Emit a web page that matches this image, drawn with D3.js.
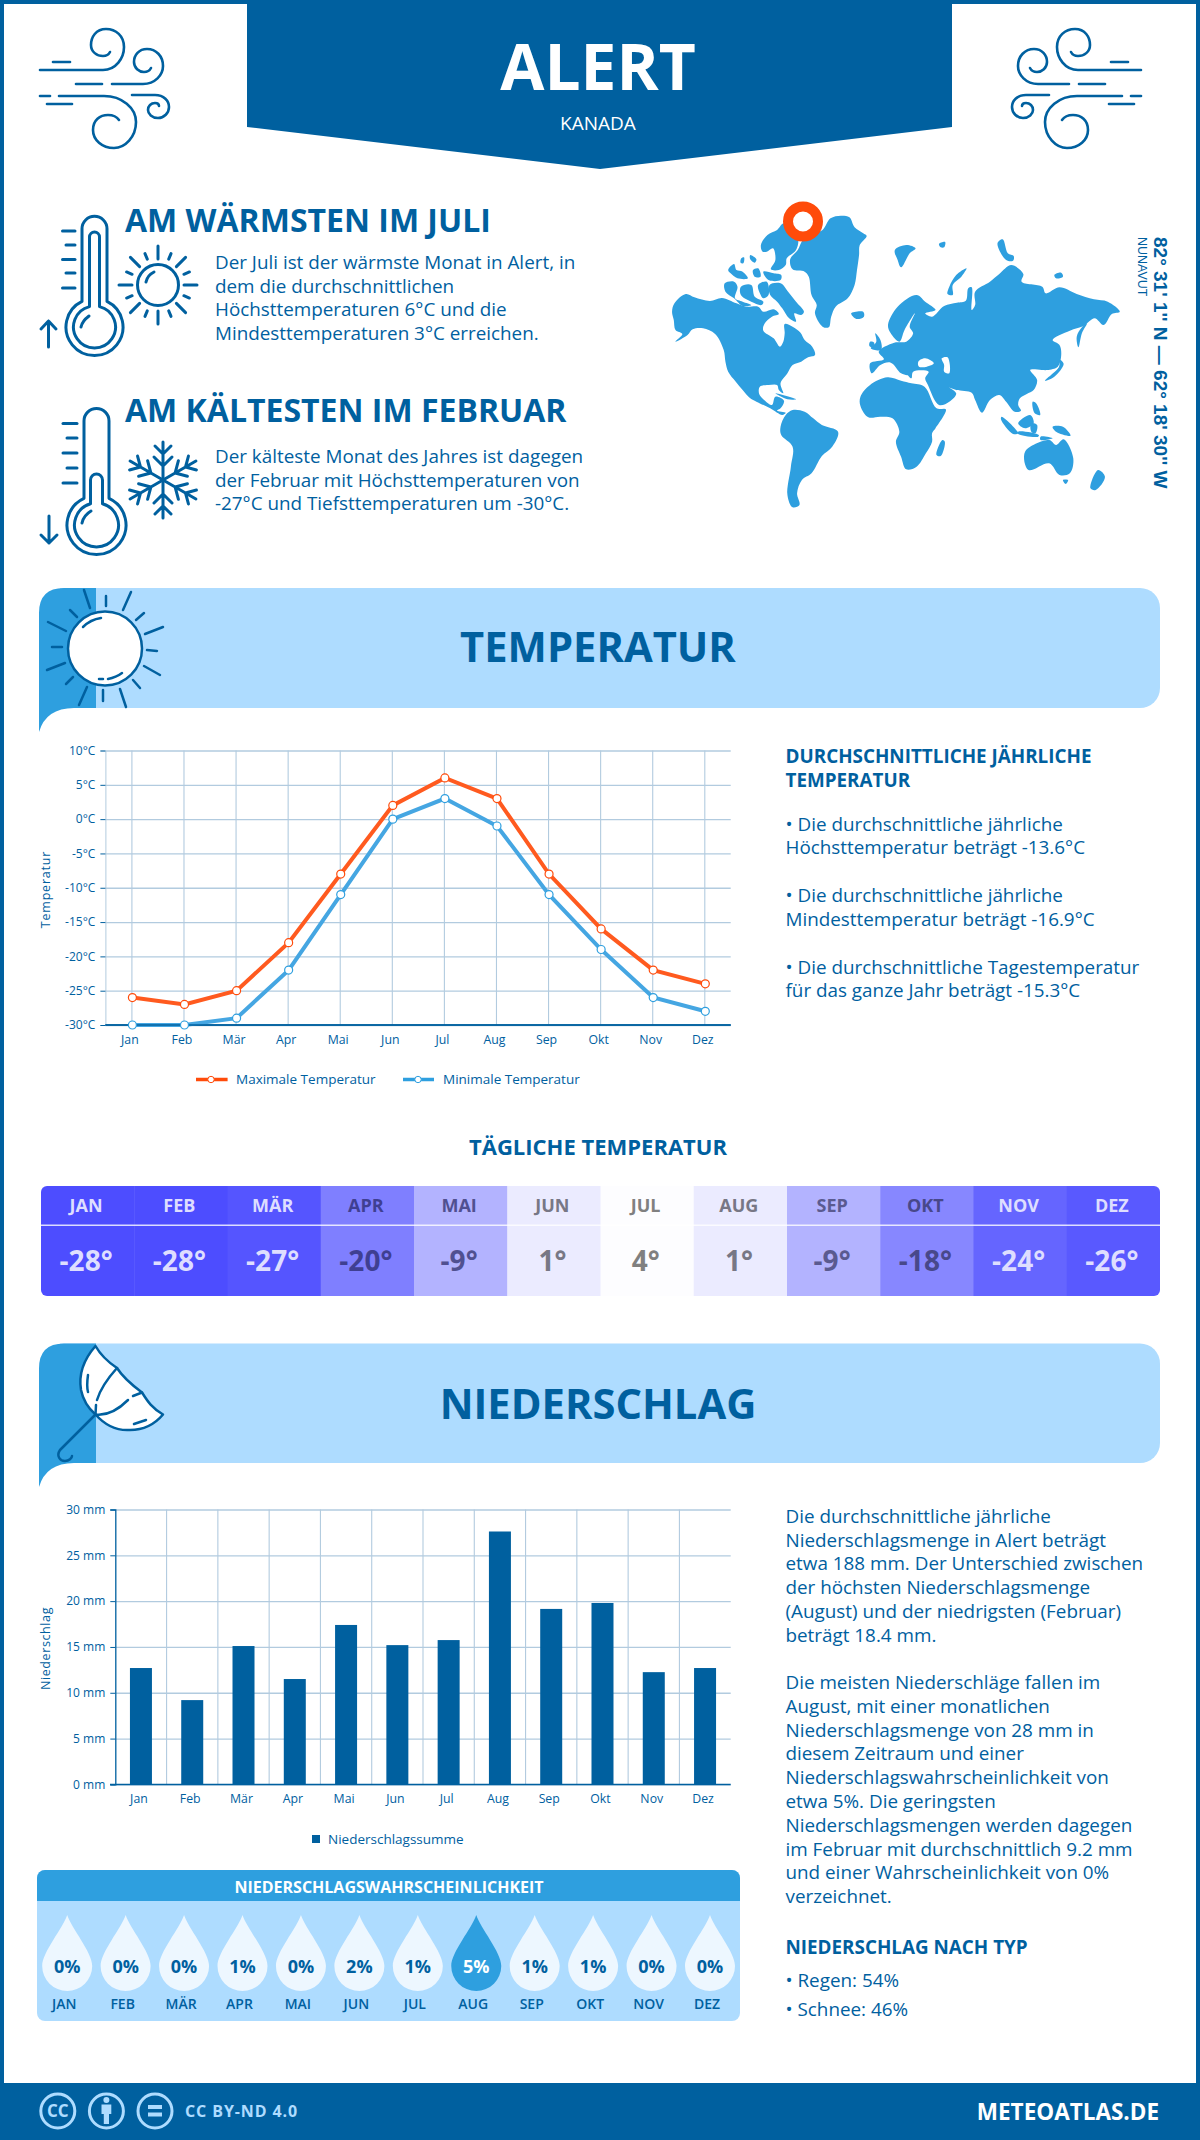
<!DOCTYPE html>
<html><head><meta charset="utf-8">
<script src="https://cdn.jsdelivr.net/npm/d3@7/dist/d3.min.js"></script>
<style>html,body{margin:0;padding:0;background:#fff}svg{display:block}text{font-family:"Open Sans",sans-serif}</style>
</head><body><svg id="c" width="1200" height="2140" viewBox="0 0 1200 2140"></svg>
<script>
const months=["Jan","Feb","Mär","Apr","Mai","Jun","Jul","Aug","Sep","Okt","Nov","Dez"];
const monthsUpper=["JAN","FEB","MÄR","APR","MAI","JUN","JUL","AUG","SEP","OKT","NOV","DEZ"];
const tempMax=[-26,-27,-25,-18,-8,2,6,3,-8,-16,-22,-24];
const tempMin=[-30,-30,-29,-22,-11,0,3,-1,-11,-19,-26,-28];
const tempTicks=[-30,-25,-20,-15,-10,-5,0,5,10];
const dailyTemp=[-28,-28,-27,-20,-9,1,4,1,-9,-18,-24,-26];
const dailyFill=["#4d4dff","#4d4dff","#5555ff","#7f7fff","#b3b3ff","#ebebff","#fdfdff","#ebebff","#b3b3ff","#8787ff","#6565ff","#5959ff"];
const dailyInk=["#dedeff","#dedeff","#dedeff","#3f3f92","#505090","#777785","#808080","#777785","#5a5a90","#48488a","#dedeff","#dedeff"];
const precip=[12.7,9.2,15.1,11.5,17.4,15.2,15.75,27.6,19.15,19.8,12.25,12.7];
const precipTicks=[0,5,10,15,20,25,30];
const rainProb=[0,0,0,1,0,2,1,5,1,1,0,0];
const warmText=["Der Juli ist der wärmste Monat in Alert, in","dem die durchschnittlichen","Höchsttemperaturen 6°C und die","Mindesttemperaturen 3°C erreichen."];
const coldText=["Der kälteste Monat des Jahres ist dagegen","der Februar mit Höchsttemperaturen von","-27°C und Tiefsttemperaturen um -30°C."];
const tempNotes=[["• Die durchschnittliche jährliche",831],["Höchsttemperatur beträgt -13.6°C",854],["• Die durchschnittliche jährliche",902],["Mindesttemperatur beträgt -16.9°C",925.5],["• Die durchschnittliche Tagestemperatur",973.5],["für das ganze Jahr beträgt -15.3°C",997]];
const precipNotes=[["Die durchschnittliche jährliche",1523],["Niederschlagsmenge in Alert beträgt",1546.5],["etwa 188 mm. Der Unterschied zwischen",1570],["der höchsten Niederschlagsmenge",1594],["(August) und der niedrigsten (Februar)",1618],["beträgt 18.4 mm.",1642],["Die meisten Niederschläge fallen im",1689],["August, mit einer monatlichen",1713],["Niederschlagsmenge von 28 mm in",1736.5],["diesem Zeitraum und einer",1760],["Niederschlagswahrscheinlichkeit von",1784],["etwa 5%. Die geringsten",1808],["Niederschlagsmengen werden dagegen",1832],["im Februar mit durchschnittlich 9.2 mm",1855.5],["und einer Wahrscheinlichkeit von 0%",1879],["verzeichnet.",1903],["• Regen: 54%",1987],["• Schnee: 46%",2016]];
const land=[
[[35,425],[42,400],[75,372],[100,382],[145,393],[180,384],[222,400],[250,410],[285,410],[300,425],[330,418],[345,432],[325,440],[303,462],[300,482],[330,505],[348,530],[358,515],[362,490],[362,462],[385,470],[408,488],[420,510],[442,530],[450,555],[430,562],[410,575],[385,585],[370,610],[350,640],[358,670],[345,660],[340,645],[315,645],[290,650],[288,672],[305,692],[325,705],[335,680],[360,692],[350,715],[340,722],[365,728],[355,735],[320,715],[280,695],[262,685],[240,660],[220,635],[198,605],[190,575],[185,540],[160,492],[125,475],[95,478],[80,495],[45,515],[65,492],[45,480],[40,450]],
[[350,770],[365,735],[385,720],[420,725],[445,745],[470,765],[517,785],[500,830],[470,858],[440,910],[412,930],[398,970],[405,1005],[385,1012],[370,975],[380,890],[385,830],[352,795]],
[[472,180],[495,145],[525,137],[550,142],[565,172],[590,190],[600,198],[580,225],[578,255],[572,300],[565,345],[545,385],[510,410],[497,440],[490,472],[472,470],[450,430],[455,405],[440,375],[432,320],[420,305],[385,298],[378,268],[400,240],[415,210],[445,190]],
[[293,225],[312,195],[340,180],[360,160],[400,200],[395,240],[368,265],[365,285],[345,300],[322,298],[335,270],[328,235],[310,245],[298,245]],
[[318,345],[350,340],[372,365],[395,395],[418,425],[410,435],[390,430],[395,455],[375,445],[355,415],[340,395],[320,375]],
[[188,340],[215,335],[225,350],[218,385],[240,395],[265,405],[240,408],[215,385],[190,365]],
[[235,350],[265,345],[275,380],[300,395],[295,405],[265,395],[235,375]],
[[285,345],[310,335],[315,375],[300,385],[290,370]],
[[198,300],[215,282],[222,300],[240,305],[255,325],[225,325],[205,310]],
[[270,300],[285,295],[292,320],[275,320]],
[[300,305],[330,310],[352,315],[350,330],[315,330]],
[[262,255],[280,268],[275,278],[262,268]],
[[236,265],[244,262],[242,280],[234,278]],
[[555,430],[590,425],[592,440],[570,447]],
[[682,240],[715,225],[742,235],[725,250],[700,292],[690,270]],
[[810,222],[828,216],[825,232],[815,232]],
[[890,295],[860,315],[840,350],[835,372],[850,375],[850,345],[875,320]],
[[980,220],[995,208],[1010,250],[1027,258],[1025,272],[1005,270]],
[[1145,315],[1165,308],[1170,320],[1150,325]],
[[745,375],[770,395],[800,420],[770,430],[790,440],[825,408],[862,398],[888,392],[895,355],[905,352],[905,420],[915,405],[915,365],[958,335],[985,312],[1020,285],[1055,312],[1050,335],[1110,350],[1120,370],[1160,352],[1210,372],[1260,388],[1300,395],[1335,425],[1312,432],[1288,465],[1262,445],[1230,468],[1190,482],[1140,510],[1160,525],[1165,555],[1155,590],[1125,600],[1108,600],[1075,600],[1095,630],[1085,660],[1065,672],[1045,685],[1040,705],[1048,722],[1030,725],[1005,695],[985,675],[958,690],[935,728],[915,690],[905,668],[860,660],[830,648],[820,642],[860,670],[840,695],[810,705],[778,645],[770,625],[780,605],[735,605],[730,625],[712,605],[690,575],[720,615],[700,610],[670,578],[640,585],[615,610],[610,580],[650,568],[635,545],[680,518],[715,515],[735,490],[725,470],[740,430],[710,480],[695,515],[670,490],[662,465],[690,410]],
[[582,680],[610,645],[660,622],[700,632],[730,640],[768,650],[803,715],[830,718],[800,775],[790,790],[790,815],[772,850],[745,890],[715,898],[700,860],[685,815],[695,785],[675,745],[640,740],[605,742],[582,708]],
[[820,810],[827,815],[815,858],[803,855]],
[[625,490],[640,510],[642,540],[612,535],[628,515]],
[[610,515],[622,518],[618,532],[608,528]],
[[1118,632],[1158,592],[1162,570],[1172,582],[1145,620]],
[[1240,460],[1225,490],[1215,532],[1210,500],[1225,472]],
[[1060,845],[1130,810],[1150,825],[1172,808],[1200,865],[1190,910],[1160,915],[1130,880],[1070,900]],
[[1170,930],[1185,930],[1178,942]],
[[1272,900],[1292,920],[1265,960],[1250,955]],
[[992,740],[1040,790],[1025,792],[990,748]],
[[1040,760],[1075,735],[1085,760],[1060,775]],
[[1040,785],[1100,795],[1098,800],[1040,792]],
[[1140,770],[1170,770],[1192,797],[1150,785]],
[[1078,760],[1095,765],[1090,790],[1078,785]],
[[1082,695],[1092,700],[1104,735],[1088,730]],
[[335,670],[395,688],[370,688]],
[[1105,800],[1140,805],[1105,810]]
];
const seas=[[[750,575],[770,565],[795,580],[775,590],[752,590]],[[818,565],[835,562],[840,610],[825,605],[825,585]]];

const blue="#00609f", mid="#2e9fdf", pale="#aedcff", grid="#b2cbdf", red="#ff4b0a";
const svg=d3.select("#c");
function T(x,y,s,o={}){const e=svg.append("text").attr("x",x).attr("y",y).text(s).attr("fill",o.fill||blue)
 .attr("font-size",o.size||18).attr("font-weight",o.weight||400).attr("text-anchor",o.anchor||"start");
 if(o.ls)e.attr("letter-spacing",o.ls); if(o.family)e.style("font-family",o.family); if(o.rot)e.attr("transform",`rotate(${o.rot} ${x} ${y})`); return e;}
function P(g,d,o={}){return g.append("path").attr("d",d).attr("fill",o.fill||"none").attr("stroke",o.stroke||blue).attr("stroke-width",o.w||3).attr("stroke-linecap","round").attr("stroke-linejoin","round");}
const bodySize=18.85;

// frame
svg.append("rect").attr("x",2).attr("y",2).attr("width",1196).attr("height",2100).attr("fill","none").attr("stroke",blue).attr("stroke-width",4);
// header
svg.append("path").attr("d","M247,0H952V127L600,169L247,127Z").attr("fill",blue);
T(598,90,"ALERT",{size:64,weight:700,anchor:"middle",fill:"#fff"});
T(598,130,"KANADA",{size:19,anchor:"middle",fill:"#fff"});
// wind icons
const windPaths=["M40 70H103C116 70 124 58 124 47C124 36 116 29 106 29C96 29 91 37 91 45C91 52 97 56 103 56C106 56 109 54 110 52","M53 62H70","M112 84H143C155 84 163 75 163 66C163 56 156 49 147 49C139 49 134 55 134 62C134 68 139 72 144 72C147 72 150 70 151 68","M76 84H102","M40 96H50","M59 96H104C122 96 136 108 136 122C136 137 125 148 114 148C102 148 93 140 93 130C93 120 100 115 108 115C113 115 117 117 119 120","M47 104H72","M132 95H155C164 95 169 101 169 107C169 113 164 118 158 118C152 118 148 114 148 110C148 106 151 103 155 103C157 103 159 104 159 106"];
const w1=svg.append("g"), w2=svg.append("g").attr("transform","translate(1181,0) scale(-1,1)");
windPaths.forEach(d=>{P(w1,d,{w:2.6});P(w2,d,{w:2.6});});
// warm block
T(125,231.5,"AM WÄRMSTEN IM JULI",{size:32,weight:700});
warmText.forEach((s,i)=>T(215,269+i*23.7,s,{size:bodySize}));
const th1=svg.append("g");
P(th1,"M82 301.4V228.8A12.5 12.5 0 0 1 107 228.8V301.4A28.5 28.5 0 1 1 82 301.4Z",{w:3});
P(th1,"M89.5 306.6V237A5 5 0 0 1 99.5 237V306.6A21 21 0 1 1 89.5 306.6Z",{w:3});
P(th1,"M81 327C82 322 85 319 89 316",{w:3});
[[62.5,231],[66,245],[62.5,259.5],[66,273],[62.5,288]].forEach(a=>P(th1,`M${a[0]} ${a[1]}H75`,{w:3}));
P(th1,"M48.5 347V321M41 329L48.5 321L56 329",{w:3});
const sun1=svg.append("g").attr("transform","translate(158,285)");
sun1.append("circle").attr("r",20.5).attr("fill","none").attr("stroke",blue).attr("stroke-width",3);
P(sun1,"M-12 -3C-11 -8 -8 -11 -4 -13",{w:3});
d3.range(8).forEach(i=>sun1.append("line").attr("y1",-26).attr("y2",-39).attr("stroke",blue).attr("stroke-width",3).attr("stroke-linecap","round").attr("transform",`rotate(${i*45})`));
d3.range(8).forEach(i=>sun1.append("line").attr("y1",-28).attr("y2",-34).attr("stroke",blue).attr("stroke-width",3).attr("stroke-linecap","round").attr("transform",`rotate(${22.5+i*45})`));
// cold block
T(125,421.5,"AM KÄLTESTEN IM FEBRUAR",{size:32,weight:700});
coldText.forEach((s,i)=>T(215,463+i*23.6,s,{size:bodySize}));
const th2=svg.append("g");
P(th2,"M84 498.3V421A12.5 12.5 0 0 1 109 421V498.3A29.5 29.5 0 1 1 84 498.3Z",{w:3});
P(th2,"M90.5 503.8V480A6 6 0 0 1 102.5 480V503.8A22 22 0 1 1 90.5 503.8Z",{w:3});
P(th2,"M82 523C83 518 86 514 91 511",{w:3});
[[63,423.5],[67,438],[63,453],[67,468],[63,483]].forEach(a=>P(th2,`M${a[0]} ${a[1]}H77`,{w:3}));
P(th2,"M49 516V543M41 535L49 543L57 535",{w:3});
const flake=svg.append("g").attr("transform","translate(163,480)");
d3.range(6).forEach(i=>{const a=flake.append("g").attr("transform",`rotate(${i*60})`);
 P(a,"M0 0V-38M-8 -34L0 -26L8 -34M-9 -23L0 -14L9 -23",{w:3});});
// map
const lineGen=d3.line().curve(d3.curveCatmullRomClosed.alpha(0.5));
const mapG=svg.append("g").attr("transform","translate(660,170) scale(0.3444,0.3333)");
mapG.selectAll("path.l").data(land).join("path").attr("class","l").attr("d",d=>lineGen(d)).attr("fill",mid);
mapG.selectAll("path.s").data(seas).join("path").attr("class","s").attr("d",d=>lineGen(d)).attr("fill","#fff");
svg.append("circle").attr("cx",803).attr("cy",221.5).attr("r",15).attr("fill","#fff").attr("stroke",red).attr("stroke-width",10);
T(1154,237,"82° 31' 1'' N — 62° 18' 30'' W",{size:19,weight:700,family:"'Liberation Sans'",rot:90});
T(1137.5,237,"NUNAVUT",{size:12.5,family:"'Liberation Sans'",rot:90});

function band(y0,y1,title,base){
 svg.append("path").attr("d",`M60,${y0}H1140a20,20 0 0 1 20,20V${y1-20}a20,20 0 0 1 -20,20H60Z`).attr("fill",pale);
 svg.append("path").attr("d",`M96,${y0}H64Q39,${y0} 39,${y0+25}V${y1+24}Q46,${y1} 74,${y1}H96Z`).attr("fill",mid);
 T(598,base,title,{size:41.7,weight:700,anchor:"middle"});
}
// temperature band
band(588,708,"TEMPERATUR",662);
const sun=svg.append("g");
sun.append("circle").attr("cx",105).attr("cy",648.5).attr("r",37).attr("fill","#fff").attr("stroke",blue).attr("stroke-width",2.5);
P(sun,"M83 627C88 622 94 619 101 618",{w:2.5});P(sun,"M99 679L103 679M108 679C113 678 118 676 122 673",{w:2.5});
["M84 590L90 608","M131 592L123 610","M163 627L145 634","M160 675L144 666","M126 707L120 689","M79 705L87 687","M47 670L65 663","M48 622L66 631","M106 596V606","M136 620L144 613","M147 650L157 651","M133 680L140 688","M103 690V701","M66 684L73 677","M52 647H62","M70 610L77 617"].forEach(d=>P(sun,d,{w:2.5}));

// temperature chart
const tL=105.4,tR=730.7,tT=750.5,tB=1025;
const tx=d3.scalePoint().domain(months).range([131.4,704.3]);
const ty=d3.scaleLinear().domain([-30,10]).range([tB,tT]);
const gT=svg.append("g");
const tyGrid=gT.append("g").attr("transform",`translate(${tL},0)`).call(d3.axisLeft(ty).tickValues(tempTicks).tickSize(-(tR-tL)).tickFormat(""));
tyGrid.selectAll("line").attr("stroke",grid).attr("stroke-width",1.3);tyGrid.select(".domain").remove();
const txGrid=gT.append("g").attr("transform",`translate(0,${tB})`).call(d3.axisBottom(tx).tickSize(-(tB-tT)).tickFormat(""));
txGrid.selectAll("line").attr("stroke",grid).attr("stroke-width",1.1);txGrid.select(".domain").remove();
const tyAx=gT.append("g").attr("transform",`translate(${tL},0)`).call(d3.axisLeft(ty).tickValues(tempTicks).tickSize(5).tickPadding(5).tickFormat(d=>d+"°C"));
tyAx.select(".domain").attr("stroke",grid);tyAx.selectAll("line").attr("stroke",blue);
tyAx.selectAll("text").attr("fill",blue).attr("font-size",12).style("font-family","'Open Sans'");
const txAx=gT.append("g").attr("transform",`translate(0,${tB})`).call(d3.axisBottom(tx).tickSize(0).tickPadding(10));
txAx.select(".domain").attr("stroke",blue).attr("stroke-width",1.5).attr("d",`M${tL},0H${tR}`);
txAx.selectAll("text").attr("fill",blue).attr("font-size",12.3).attr("dx",-2).style("font-family","'Open Sans'");
T(46,889.5,"Temperatur",{size:12.5,anchor:"middle",rot:-90,ls:0.8}).attr("dy",4);
const tLine=d3.line().x((d,i)=>tx(months[i])+1).y(d=>ty(d));
[[tempMin,"#45a6e2"],[tempMax,"#ff5a1f"]].forEach(([vals,col])=>{
 gT.append("path").datum(vals).attr("d",tLine).attr("fill","none").attr("stroke",col).attr("stroke-width",4);
});
gT.append("path").attr("d",`M${tL},${tB}H${tR}`).attr("stroke",blue).attr("stroke-width",1.5);
[[tempMax,red],[tempMin,mid]].forEach(([vals,col])=>{
 gT.selectAll(null).data(vals).join("circle").attr("cx",(d,i)=>tx(months[i])+1).attr("cy",d=>ty(d)).attr("r",4).attr("fill","#fff").attr("stroke",col).attr("stroke-width",1.2);
});
[[196,227.6,211,red,"Maximale Temperatur",236],[403,434,418,mid,"Minimale Temperatur",443]].forEach(([a,b,c,col,s,tx0])=>{
 gT.append("line").attr("x1",a).attr("x2",b).attr("y1",1079.5).attr("y2",1079.5).attr("stroke",col).attr("stroke-width",3.5);
 gT.append("circle").attr("cx",c).attr("cy",1079.5).attr("r",3.2).attr("fill","#fff").attr("stroke",col);
 T(tx0,1084,s,{size:13.5});
});
// temperature notes
T(785.5,763,"DURCHSCHNITTLICHE JÄHRLICHE",{size:bodySize,weight:700});
T(785.5,786.5,"TEMPERATUR",{size:bodySize,weight:700});
tempNotes.forEach(([s,y])=>T(785.5,y,s,{size:bodySize}));

// daily table
T(598,1155,"TÄGLICHE TEMPERATUR",{size:22,weight:700,anchor:"middle"});
const cx=d3.scaleBand().domain(monthsUpper).range([41,1160]);
const clip=svg.append("clipPath").attr("id","tbl");clip.append("rect").attr("x",41).attr("y",1186).attr("width",1119).attr("height",110).attr("rx",6);
const gD=svg.append("g").attr("clip-path","url(#tbl)");
gD.selectAll("rect").data(monthsUpper).join("rect").attr("x",d=>cx(d)).attr("y",1186).attr("width",cx.bandwidth()+.5).attr("height",110).attr("fill",(d,i)=>dailyFill[i]);
gD.append("rect").attr("x",41).attr("y",1224.6).attr("width",1119).attr("height",1.2).attr("fill","#fff");
monthsUpper.forEach((m,i)=>{
 T(cx(m)+cx.bandwidth()/2-1.5,1211.5,m,{size:18,weight:700,anchor:"middle",fill:dailyInk[i]});
 T(cx(m)+cx.bandwidth()/2-1.5,1271,dailyTemp[i]+"°",{size:28,weight:700,anchor:"middle",fill:dailyInk[i]});
});

// precipitation band
band(1343.5,1463,"NIEDERSCHLAG",1418.5);
const um=svg.append("g");
P(um,"M95.5 1346C85 1358 78 1372 81 1390C83 1400 88 1408 95.5 1414.5C104 1424 116 1431 130 1430C143 1430 155 1424 163 1414.5C152 1408 148 1402 142 1392.5C132 1385 122 1376 117 1368C108 1362 100 1354 95.5 1346Z",{w:2.5,fill:"#fff"});
P(um,"M117 1368C108 1378 100 1390 97 1400",{w:2.5});P(um,"M96 1405L95.5 1414.5C108 1416 120 1408 128 1400",{w:2.5});P(um,"M133 1396L142 1392.5",{w:2.5});
P(um,"M88 1375C87 1382 87 1388 88 1392",{w:2.5});P(um,"M134 1424L146 1420",{w:2.5});
P(um,"M95.5 1414.5L60 1450C56 1456 60 1461 65 1461C69 1461 72 1458 72 1456",{w:2.5});

// precipitation chart
const bL=115.3,bR=730.7,bT=1509.5,bB=1784.4;
const bx=d3.scaleBand().domain(months).range([bL,bR]);
const by=d3.scaleLinear().domain([0,30]).range([bB,bT]);
const gB=svg.append("g");
const byGrid=gB.append("g").attr("transform",`translate(${bL},0)`).call(d3.axisLeft(by).tickValues(precipTicks).tickSize(-(bR-bL)).tickFormat(""));
byGrid.selectAll("line").attr("stroke",grid).attr("stroke-width",1.3);byGrid.select(".domain").remove();
gB.selectAll("line.v").data(months.slice(1)).join("line").attr("class","v").attr("x1",d=>bx(d)).attr("x2",d=>bx(d)).attr("y1",bT).attr("y2",bB).attr("stroke",grid).attr("stroke-width",1.1);
gB.selectAll("rect").data(precip).join("rect").attr("x",(d,i)=>bx(months[i])+bx.bandwidth()/2-11).attr("width",22).attr("y",d=>by(d)).attr("height",d=>bB-by(d)).attr("fill",blue);
const byAx=gB.append("g").attr("transform",`translate(${bL},0)`).call(d3.axisLeft(by).tickValues(precipTicks).tickSize(5).tickPadding(5).tickFormat(d=>d+" mm"));
byAx.select(".domain").attr("stroke",blue).attr("stroke-width",1.3);byAx.selectAll("line").attr("stroke",blue);
byAx.selectAll("text").attr("fill",blue).attr("font-size",12).style("font-family","'Open Sans'");
const bxAx=gB.append("g").attr("transform",`translate(0,${bB})`).call(d3.axisBottom(bx).tickSize(0).tickPadding(10));
bxAx.select(".domain").attr("stroke",blue).attr("stroke-width",1.5).attr("d",`M110,0H${bR}`);
bxAx.selectAll("text").attr("fill",blue).attr("font-size",12.3).attr("dx",-2).style("font-family","'Open Sans'");
T(46,1648.5,"Niederschlag",{size:12.5,anchor:"middle",rot:-90,ls:0.6}).attr("dy",4);
gB.append("rect").attr("x",312).attr("y",1835).attr("width",8).attr("height",8).attr("fill",blue);
T(328,1843.5,"Niederschlagssumme",{size:13.5});
// precipitation notes
precipNotes.forEach(([s,y])=>T(785.5,y,s,{size:bodySize}));
T(785.5,1953.5,"NIEDERSCHLAG NACH TYP",{size:bodySize,weight:700});

// probability panel
svg.append("rect").attr("x",37).attr("y",1870).attr("width",703).attr("height",151).attr("rx",8).attr("fill",pale);
svg.append("path").attr("d","M37,1901V1878a8,8 0 0 1 8,-8H732a8,8 0 0 1 8,8V1901Z").attr("fill",mid);
T(389,1892.5,"NIEDERSCHLAGSWAHRSCHEINLICHKEIT",{size:16,weight:700,anchor:"middle",fill:"#fff"});
const dx=d3.scalePoint().domain(monthsUpper).range([67.2,710]);
const drop="M0,-51C4,-38 25,-14 25,0A25,25 0 0 1 -25,0C-25,-14 -4,-38 0,-51Z";
monthsUpper.forEach((m,i)=>{
 const hot=rainProb[i]>=5;
 svg.append("path").attr("d",drop).attr("transform",`translate(${dx(m)},1966)`).attr("fill",hot?mid:"#edf7ff");
 T(dx(m),1973,rainProb[i]+"%",{size:18,weight:700,anchor:"middle",fill:hot?"#fff":blue});
 T(dx(m)-3,2009,m,{size:14,weight:600,anchor:"middle"});
});

// footer
svg.append("rect").attr("x",0).attr("y",2083).attr("width",1200).attr("height",57).attr("fill",blue);
[57.8,106.4,155].forEach(x=>svg.append("circle").attr("cx",x).attr("cy",2111).attr("r",17).attr("fill","none").attr("stroke",pale).attr("stroke-width",3));
T(57.8,2117,"CC",{size:17,weight:700,anchor:"middle",fill:pale});
const per=svg.append("g").attr("fill",pale);
per.append("circle").attr("cx",106.4).attr("cy",2100).attr("r",3);
per.append("path").attr("d","M101.5,2104.5H111.3V2114H109V2124H103.8V2114H101.5Z");
per.append("rect").attr("x",148).attr("y",2105).attr("width",14).attr("height",4);
per.append("rect").attr("x",148).attr("y",2112.5).attr("width",14).attr("height",4);
T(185,2117,"CC BY-ND 4.0",{size:16,weight:700,fill:pale,ls:0.9});
T(1159,2120,"METEOATLAS.DE",{size:22.5,weight:700,anchor:"end",fill:"#fff"});
</script></body></html>
